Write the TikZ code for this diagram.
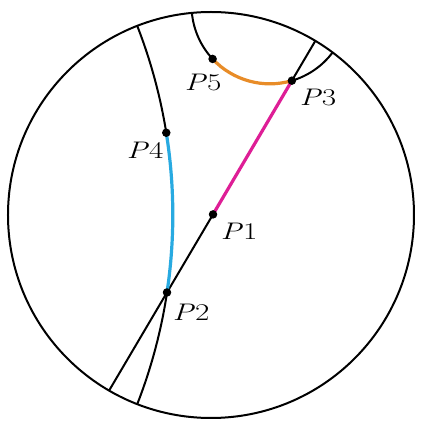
\documentclass[tikz,border=0pt]{standalone}
\usepackage{fontspec}
\usepackage{graphicx}
\definecolor{geomag}{RGB}{222,30,150}
\definecolor{geoblue}{RGB}{40,170,225}
\definecolor{geoorange}{RGB}{232,140,40}
\newcommand{\plab}[1]{\scalebox{1.3}[1]{\textit{P}#1}}
\tikzset{
  geo/.style={line width=2pt, draw=black},
  hl/.style={line width=3.2pt},
  dot/.style={circle, fill=black, inner sep=0pt, minimum size=8.5pt},
  lbl/.style={font=\fontsize{24}{26}\selectfont, inner sep=0pt},
}
\begin{document}
\begin{tikzpicture}[x=203pt,y=203pt]
\useasboundingbox (-1.0394,-1.0148) rectangle (1.0296,1.0591);
\fill[white] (-1.0394,-1.0148) rectangle (1.0296,1.0591);
\coordinate (O) at (0,0);
\coordinate (E1) at (239.87:1);
\coordinate (E2) at (59.07:1);
\coordinate (g2a) at (-0.3632,-0.9316);
\coordinate (g3a) at (-0.0941,0.9957);
\coordinate (p1) at (0.010,0.003);
\coordinate (p2) at (-0.2167,-0.3815);
\coordinate (p3) at (0.3984,0.6617);
\coordinate (p4) at (-0.2203,0.4052);
\coordinate (p5) at (0.0079,0.7688);
% boundary
\draw[geo] (O) circle[radius=1];
% straight geodesic
\draw[geo] (E1) -- (p1);
\draw[geo] (p3) -- (E2);
% geodesic through P2, P4
\draw[geo] (g2a) arc[start angle=-21.3, end angle=-8.555, radius=2.5646];
\draw[geo] (p4) arc[start angle=9.09, end angle=21.3, radius=2.5646];
% geodesic through P5, P3
\draw[geo] (g3a) arc[start angle=-174.6, end angle=-137.0, radius=0.3859];
\draw[geo] (p3) arc[start angle=-73.7, end angle=-36.83, radius=0.3859];
% highlighted segments
\draw[geo, hl, draw=geomag] (p1) -- (p3);
\draw[geo, hl, draw=geoblue] (p2) arc[start angle=-8.555, end angle=9.09, radius=2.5646];
\draw[geo, hl, draw=geoorange] (p5) arc[start angle=-137.0, end angle=-73.7, radius=0.3859];
% points
\node[dot] (P1) at (p1) {};
\node[dot] (P2) at (p2) {};
\node[dot] (P3) at (p3) {};
\node[dot] (P4) at (p4) {};
\node[dot] (P5) at (p5) {};
% labels
\node[lbl] (L1) at (0.138,-0.079) {\plab{1}};
\node[lbl] (L2) at (-0.0985,-0.478) {\plab{2}};
\node[lbl] (L3) at (0.527,0.581) {\plab{3}};
\node[lbl] (L4) at (-0.325,0.320) {\plab{4}};
\node[lbl] (L5) at (-0.039,0.655) {\plab{5}};
\end{tikzpicture}
\end{document}
